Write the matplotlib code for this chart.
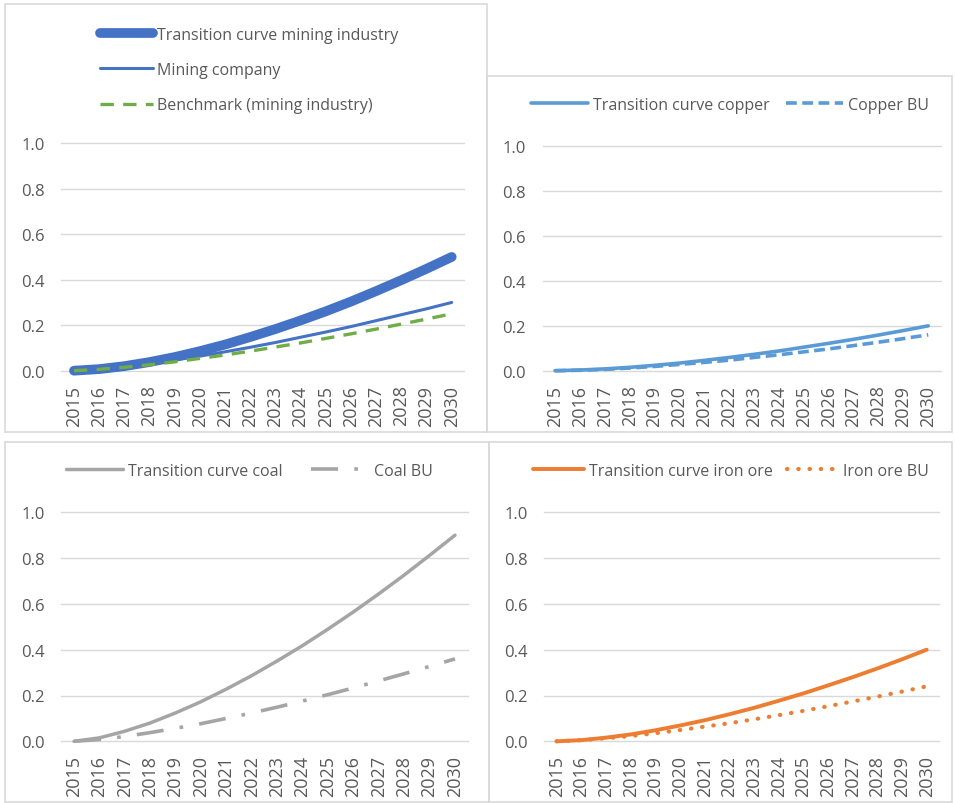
import numpy as np
import matplotlib
matplotlib.use("Agg")
import matplotlib.pyplot as plt
from matplotlib.patches import Rectangle

plt.rcParams["font.family"] = ["Open Sans", "DejaVu Sans"]

years = [str(y) for y in range(2015, 2031)]

# top-left panel
mining_curve = [0.0, 0.007, 0.020, 0.038, 0.060, 0.086, 0.115, 0.148, 0.183,
                0.221, 0.261, 0.304, 0.350, 0.398, 0.448, 0.500]
mining_company = [0.005, 0.009, 0.018, 0.032, 0.047, 0.064, 0.083, 0.103, 0.124,
                  0.147, 0.170, 0.194, 0.220, 0.246, 0.272, 0.300]
mining_benchmark = [0.0, 0.006, 0.015, 0.026, 0.039, 0.054, 0.069, 0.086, 0.104,
                    0.122, 0.142, 0.162, 0.183, 0.205, 0.227, 0.250]
# top-right panel
copper_curve = [0.0, 0.003, 0.008, 0.015, 0.024, 0.034, 0.046, 0.059, 0.073,
                0.088, 0.105, 0.122, 0.140, 0.159, 0.179, 0.200]
copper_bu = [0.0, 0.002, 0.006, 0.012, 0.019, 0.028, 0.037, 0.047, 0.059,
             0.071, 0.084, 0.097, 0.112, 0.127, 0.143, 0.160]
# bottom-left panel
coal_curve = [0.0, 0.015, 0.044, 0.080, 0.124, 0.173, 0.228, 0.287, 0.351,
              0.418, 0.490, 0.565, 0.644, 0.726, 0.812, 0.900]
coal_bu = [0.0, 0.008, 0.021, 0.038, 0.057, 0.077, 0.100, 0.124, 0.149,
           0.176, 0.204, 0.233, 0.264, 0.295, 0.327, 0.360]
# bottom-right panel
iron_curve = [0.0, 0.005, 0.016, 0.030, 0.048, 0.069, 0.092, 0.118, 0.146,
              0.177, 0.209, 0.244, 0.280, 0.318, 0.358, 0.400]
iron_bu = [0.0, 0.005, 0.013, 0.023, 0.035, 0.049, 0.064, 0.079, 0.096,
           0.114, 0.133, 0.153, 0.174, 0.195, 0.217, 0.240]

yticks = [0.0, 0.2, 0.4, 0.6, 0.8, 1.0]

W, H = 955, 804
TXT = "#595959"
GRID = "#D9D9D9"

fig = plt.figure(figsize=(W / 100, H / 100), dpi=100)


def box(x0, y0, x1, y1):
    # pixel box (top-left origin) -> figure fraction rect
    return [x0 / W, 1 - y1 / H, (x1 - x0) / W, (y1 - y0) / H]


def panel(x0, y0, x1, y1):
    fig.patches.append(Rectangle((x0 / W, 1 - y1 / H), (x1 - x0) / W, (y1 - y0) / H,
                                 transform=fig.transFigure, fill=False,
                                 edgecolor=GRID, lw=1.2))


def make_ax(x0, y0, x1, y1):
    ax = fig.add_axes(box(x0, y0, x1, y1))
    ax.set_xlim(-0.5, len(years) - 0.5)
    ax.set_ylim(0, 1.0)
    ax.set_yticks(yticks)
    ax.set_yticklabels([f"{v:.1f}" for v in yticks])
    ax.set_xticks(range(len(years)))
    ax.set_xticklabels(years, rotation=90)
    ax.tick_params(length=0, colors=TXT)
    ax.tick_params(axis="y", labelsize=12, pad=12)
    ax.tick_params(axis="x", labelsize=13, pad=10)
    for s in ax.spines.values():
        s.set_visible(False)
    for v in yticks:
        ax.axhline(v, color=GRID, lw=1, zorder=0, clip_on=False)
    return ax


def legend(ax, cx, cy, ncol, loc="center", **kw):
    leg = ax.legend(loc=loc, bbox_to_anchor=(cx / W, 1 - cy / H),
                    bbox_transform=fig.transFigure, frameon=False, ncol=ncol,
                    fontsize=11.5, borderpad=0, handletextpad=0.3, **kw)
    for t in leg.get_texts():
        t.set_color(TXT)
    return leg


x = np.arange(len(years))

panel(5, 5, 487, 433)
panel(487, 77, 952, 433)
panel(5, 443, 489, 803)
panel(489, 443, 952, 803)

# top-left
ax = make_ax(61.4, 144.2, 464.3, 371.7)
ax.plot(x, mining_curve, color="#4472C4", lw=7.0, solid_capstyle="round",
        label="Transition curve mining industry", clip_on=False)
ax.plot(x, mining_company, color="#4472C4", lw=2.2, solid_capstyle="round",
        label="Mining company", clip_on=False)
ax.plot(x, mining_benchmark, color="#70AD47", lw=2.4, dashes=(4, 2.8),
        label="Benchmark (mining industry)", clip_on=False)
legend(ax, 92, 71, 1, loc="center left", handlelength=3.3, labelspacing=1.2)

# top-right
ax = make_ax(542.6, 147.3, 940.7, 371.7)
ax.plot(x, copper_curve, color="#5B9BD5", lw=2.6, solid_capstyle="round",
        label="Transition curve copper", clip_on=False)
ax.plot(x, copper_bu, color="#5B9BD5", lw=2.6, dashes=(3, 1.5),
        label="Copper BU", clip_on=False)
legend(ax, 730, 106, 2, handlelength=3.6, columnspacing=1.0)

# bottom-left
ax = make_ax(61.3, 513.3, 467.7, 742.3)
ax.plot(x, coal_curve, color="#A5A5A5", lw=2.5, solid_capstyle="round",
        label="Transition curve coal", clip_on=False)
ax.plot(x, coal_bu, color="#A5A5A5", lw=2.6, dashes=(7.5, 4.5, 1, 4.5),
        label="Coal BU", clip_on=False)
legend(ax, 249, 472, 2, handlelength=3.6, columnspacing=1.8)

# bottom-right
ax = make_ax(544.3, 513.3, 939.0, 742.3)
ax.plot(x, iron_curve, color="#ED7D31", lw=2.8, solid_capstyle="round",
        label="Transition curve iron ore", clip_on=False)
ax.plot(x, iron_bu, color="#ED7D31", lw=3.0, dashes=(0.1, 2.6),
        dash_capstyle="round", label="Iron ore BU", clip_on=False)
legend(ax, 731, 472, 2, handlelength=3.2, columnspacing=0.9)

fig.savefig("out.png", dpi=100)
